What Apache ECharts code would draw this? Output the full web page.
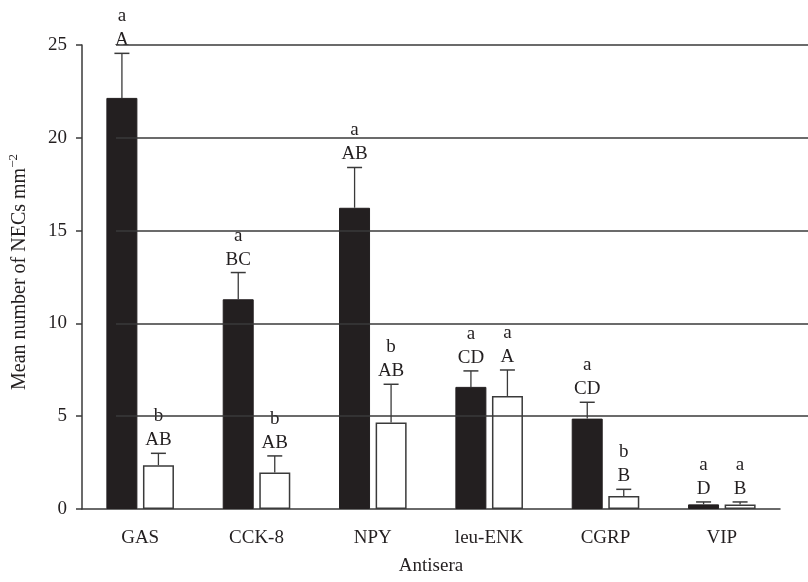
<!DOCTYPE html>
<html>
<head>
<meta charset="utf-8">
<script src="https://cdn.jsdelivr.net/npm/echarts@6/dist/echarts.min.js"></script>
<style>
  html, body { margin: 0; padding: 0; background: #fff; }
  #chart { width: 808px; height: 582px; }
</style>
</head>
<body>
<div id="chart"></div>
<script>
// antisera on the x axis
var categories = ['GAS', 'CCK-8', 'NPY', 'leu-ENK', 'CGRP', 'VIP'];

// black bars (first group) and white bars (second group), mean and upper error
var blackMeans = [22.15, 11.3, 16.23, 6.58, 4.87, 0.25];
var blackErrors = [2.4, 1.44, 2.17, 0.86, 0.88, 0.13];
var whiteMeans = [2.36, 1.96, 4.66, 6.09, 0.7, 0.24];
var whiteErrors = [0.64, 0.9, 2.06, 1.4, 0.36, 0.14];

// significance letters above each bar
var blackLower = ['a', 'a', 'a', 'a', 'a', 'a'];
var blackUpper = ['A', 'BC', 'AB', 'CD', 'CD', 'D'];
var whiteLower = ['b', 'b', 'b', 'a', 'b', 'a'];
var whiteUpper = ['AB', 'AB', 'AB', 'A', 'B', 'B'];

var gridValues = [5, 10, 15, 20, 25];

var FONT = '"Liberation Serif", "DejaVu Serif", serif';
var INK = '#231f20';
var LINE = '#3a3a3a';

var myChart = echarts.init(document.getElementById('chart'));

function errorRenderer(offset, lower, upper) {
	return function (params, api) {
		var i = api.value(0);
		var v = api.value(1);
		var e = api.value(2);
		var base = api.coord([i, v]);
		var top = api.coord([i, v + e]);
		var x = base[0] + offset;
		var k = params.dataIndex;
		return {
			type: 'group',
			children: [
				{ type: 'line', shape: { x1: x, y1: base[1], x2: x, y2: top[1] }, style: { stroke: LINE, lineWidth: 1.3 } },
				{ type: 'line', shape: { x1: x - 7.5, y1: top[1], x2: x + 7.5, y2: top[1] }, style: { stroke: LINE, lineWidth: 1.5 } },
				{
					type: 'text', x: x, y: top[1] - 1,
					style: {
						text: lower[k] + '\n' + upper[k],
						textAlign: 'center', textVerticalAlign: 'bottom',
						fontFamily: FONT, fontSize: 19, lineHeight: 24, fill: INK
					}
				}
			]
		};
	};
}

var gridLines = gridValues.map(function (g) {
	return [
		{ xAxis: 0, yAxis: g, x: 116 },
		{ xAxis: categories.length - 1, yAxis: g, x: 808 }
	];
});

var option = {
	animation: false,
	grid: { left: 82, right: 28, top: 45, bottom: 73, outerBoundsMode: 'none', containLabel: false },
	xAxis: {
		type: 'category',
		data: categories,
		name: 'Antisera',
		nameLocation: 'middle',
		nameGap: 48,
		nameTextStyle: { fontFamily: FONT, fontSize: 19, color: INK },
		axisLine: { lineStyle: { color: LINE, width: 1.5 } },
		axisTick: { alignWithLabel: true, length: 7, lineStyle: { color: LINE, width: 1.5 } },
		axisLabel: { fontFamily: FONT, fontSize: 19, color: INK, margin: 20 },
		splitLine: { show: false }
	},
	yAxis: {
		type: 'value',
		min: 0,
		max: 25,
		interval: 5,
		name: 'Mean number of NECs mm{sup|\u22122}',
		nameLocation: 'middle',
		nameRotate: 90,
		nameGap: 50,
		nameTextStyle: {
			fontFamily: FONT, fontSize: 20, color: INK,
			padding: [0, 0, 0, 10],
			rich: {
				sup: { fontFamily: FONT, fontSize: 13, color: INK, padding: [0, 0, 12, 0] }
			}
		},
		axisLine: { show: true, lineStyle: { color: LINE, width: 1.5 } },
		axisTick: { show: true, length: 6, lineStyle: { color: LINE, width: 1.5 } },
		axisLabel: { fontFamily: FONT, fontSize: 19, color: INK, margin: 15 },
		splitLine: { show: false }
	},
	series: [
		{
			name: 'grid',
			type: 'line',
			data: [],
			z: 1,
			silent: true,
			markLine: {
				silent: true,
				symbol: 'none',
				label: { show: false },
				lineStyle: { color: LINE, width: 1.5, type: 'solid' },
				data: gridLines
			}
		},
		{
			name: 'black',
			type: 'bar',
			data: blackMeans,
			z: 2,
			barWidth: 31,
			barGap: '18%',
			itemStyle: { color: INK, borderColor: INK, borderWidth: 1 }
		},
		{
			name: 'white',
			type: 'bar',
			data: whiteMeans,
			z: 2,
			barWidth: 31,
			barGap: '18%',
			itemStyle: { color: '#fff', borderColor: LINE, borderWidth: 1.5 }
		},
		{
			name: 'blackErr',
			type: 'custom',
			z: 3,
			data: blackMeans.map(function (m, i) { return [i, m, blackErrors[i]]; }),
			renderItem: errorRenderer(-18.25, blackLower, blackUpper)
		},
		{
			name: 'whiteErr',
			type: 'custom',
			z: 3,
			data: whiteMeans.map(function (m, i) { return [i, m, whiteErrors[i]]; }),
			renderItem: errorRenderer(18.25, whiteLower, whiteUpper)
		}
	]
};

myChart.setOption(option);
</script>
</body>
</html>
